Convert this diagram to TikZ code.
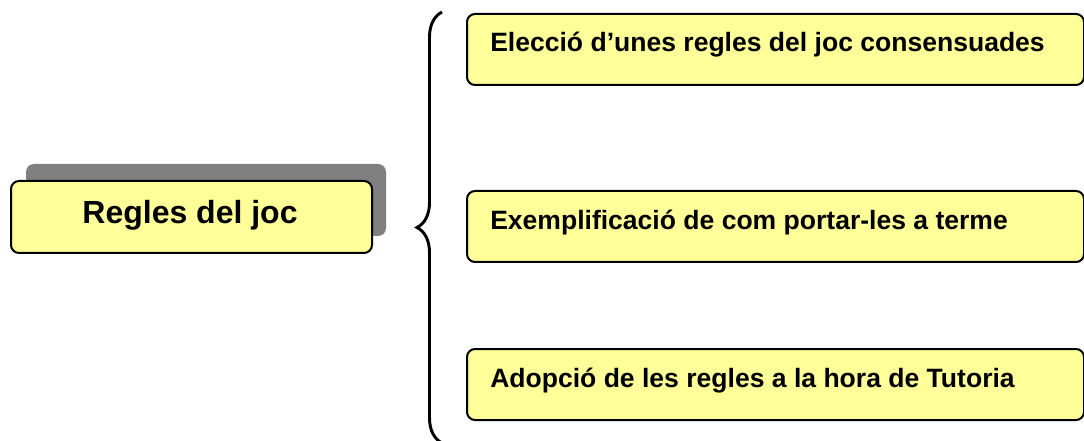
\documentclass[tikz,border=0pt]{standalone}
\usepackage{fontspec}
\setmainfont{Liberation Sans}
\usetikzlibrary{decorations.pathreplacing}
\definecolor{boxyellow}{RGB}{255,255,153}
\definecolor{shadowgray}{RGB}{128,128,128}
\tikzstyle{yellowbox}=[draw=black,fill=boxyellow,line width=1.5pt,rounded corners=6pt,inner sep=0pt]
\tikzstyle{boxtext}=[inner sep=0pt,anchor=base west,font=\fontsize{19.9}{24}\selectfont\bfseries]
\newcommand{\itembox}[4]{%
  \node[yellowbox,anchor=north west,minimum width=617*0.75pt,minimum height=71*0.75pt] (#1) at (466,#2) {};
  \node[boxtext] (#1text) at (490,#3) {#4};}

\begin{document}
\begin{tikzpicture}[x=0.75pt,y=-0.75pt]
    \useasboundingbox (0,0) rectangle (1084,441);

    % Left box with its grey shadow
    \fill[shadowgray,rounded corners=6pt] (26,164) rectangle (386,236);
    \node[yellowbox,anchor=north west,minimum width=361*0.75pt,minimum height=72*0.75pt] (rules) at (10,180) {};
    \node[inner sep=0pt,anchor=base,font=\fontsize{24}{28}\selectfont\bfseries] (rulestext) at (190,224) {Regles del joc};

    % Brace
    \coordinate (bracetop) at (442,12);
    \coordinate (bracebot) at (442,443);
    \draw[line width=2.2pt,decorate,decoration={brace,amplitude=25*0.75pt}] (bracebot) -- (bracetop);

    % Right boxes
    \itembox{choice}{13}{52}{Elecció d’unes regles del joc consensuades}
    \itembox{example}{190}{230}{Exemplificació de com portar-les a terme}
    \itembox{adopt}{348}{387}{Adopció de les regles a la hora de Tutoria}
\end{tikzpicture}
\end{document}
